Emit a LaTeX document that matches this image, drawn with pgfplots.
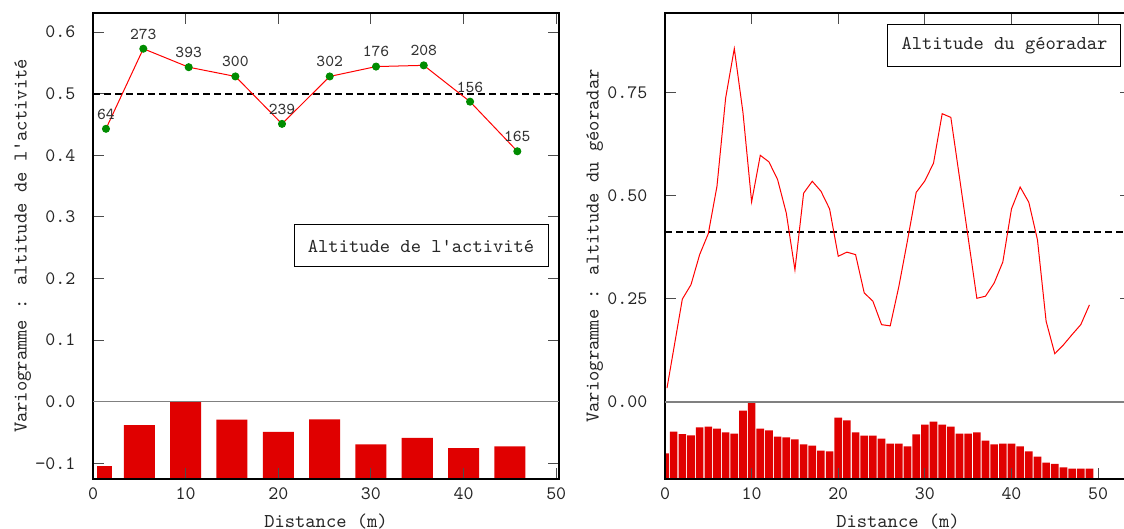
\documentclass[border=0pt]{standalone}
\usepackage{pgfplots}
\pgfplotsset{compat=1.18}
\definecolor{barred}{RGB}{224,0,0}
\definecolor{ptgreen}{RGB}{0,140,0}
\tikzset{boxnode/.style={draw=black, line width=0.5pt, fill=white, inner sep=0pt, minimum height=21pt, font=\ttfamily\fontsize{9.8}{12}\selectfont, text=black!85}}
\begin{document}
\begin{tikzpicture}
\pgfplotsset{
  vario/.style={scale only axis, width=233pt, height=233pt, anchor=south west, xmin=0, clip=true},
  mainax/.style={vario,
    axis line style={line width=1.3pt},
    major tick length=5.5pt,
    tick style={line width=0.5pt, black!70},
    tick align=inside,
    xtick={0,10,20,30,40,50}, xticklabels={0,10,20,30,40,50},
    tick label style={font=\ttfamily\fontsize{9.5}{11}\selectfont, text=black!85},
    yticklabel style={xshift=-5.3pt},
    xticklabel style={yshift=-0.8pt},
    label style={font=\ttfamily\fontsize{9.8}{12}\selectfont, text=black!85},
    xlabel style={at={(axis description cs:0.5,0)}, anchor=base, yshift=-24.25pt},
    ylabel style={at={(axis description cs:-0.1427,0.5)}, anchor=base},
  },
  barax/.style={vario, hide axis, ymin=0},
}
% ---------- left panel: bars ----------
\begin{axis}[barax, at={(46.5pt,25pt)}, xmax=50.3, ymax=0.7566]
\addplot[ybar, bar shift=0pt, bar width=1.675, fill=barred, draw=none] coordinates {(1.25,0.0205)};
\addplot[ybar, bar shift=0pt, bar width=3.35, fill=barred, draw=none] coordinates {
(5,0.0875) (10,0.1255) (15,0.0962) (20,0.0766) (25,0.0968) (30,0.0564) (35,0.0667) (40,0.0500) (45,0.0529)};
\end{axis}
% ---------- left panel: main ----------
\begin{axis}[mainax, at={(46.5pt,25pt)}, xmax=50.3, ymin=-0.1255, ymax=0.631,
  ytick={-0.1,0,0.1,0.2,0.3,0.4,0.5,0.6},
  yticklabels={−0.1,0.0,0.1,0.2,0.3,0.4,0.5,0.6},
  xlabel={Distance (m)},
  ylabel={Variogramme : altitude de l\textquotesingle activité}]
\addplot[gray, line width=0.8pt] coordinates {(0,0) (50.3,0)};
\addplot[black, line width=1pt, dash pattern=on 3.5pt off 2pt] coordinates {(0,0.5) (50.3,0.5)};
\addplot[red, line width=0.5pt, mark=*, mark size=1.75pt, mark options={fill=ptgreen, draw=ptgreen},
  nodes near coords, point meta=explicit symbolic,
  nodes near coords style={font=\ttfamily\fontsize{8.3}{10}\selectfont, text=black!80, anchor=south, inner sep=0pt, yshift=4.5pt}]
  coordinates {
(1.40,0.443)[64]
(5.43,0.573)[273]
(10.33,0.543)[393]
(15.37,0.528)[300]
(20.40,0.451)[239]
(25.55,0.528)[302]
(30.55,0.544)[176]
(35.70,0.546)[208]
(40.70,0.487)[156]
(45.80,0.4065)[165]
};
\node[boxnode, minimum width=127pt] at (axis description cs:0.704,0.5) {Altitude de l\textquotesingle activité};
\end{axis}
% ---------- right panel: bars ----------
\begin{axis}[barax, at={(332.5pt,25pt)}, xmax=53.8, ymax=1.131]
\addplot[ybar, bar shift=0pt, bar width=0.88, fill=barred, draw=none] coordinates {
(0,0.062) (1,0.115) (2,0.109) (3,0.106) (4,0.125) (5,0.127) (6,0.122) (7,0.113) (8,0.110) (9,0.166)
(10,0.188) (11,0.122) (12,0.118) (13,0.103) (14,0.101) (15,0.096) (16,0.084) (17,0.081) (18,0.069) (19,0.067)
(20,0.149) (21,0.142) (22,0.113) (23,0.105) (24,0.105) (25,0.098) (26,0.086) (27,0.086) (28,0.079) (29,0.108)
(30,0.132) (31,0.139) (32,0.132) (33,0.127) (34,0.110) (35,0.110) (36,0.113) (37,0.093) (38,0.084) (39,0.086)
(40,0.086) (41,0.079) (42,0.067) (43,0.054) (44,0.040) (45,0.037) (46,0.028) (47,0.025) (48,0.025) (49,0.025)};
\end{axis}
% ---------- right panel: main ----------
\begin{axis}[mainax, at={(332.5pt,25pt)}, xmax=53.8, ymin=-0.1876, ymax=0.9434,
  ytick={0,0.25,0.5,0.75},
  yticklabels={0.00,0.25,0.50,0.75},
  xlabel={Distance (m)},
  ylabel={Variogramme : altitude du géoradar}]
\addplot[gray, line width=0.8pt] coordinates {(0,0) (53.8,0)};
\addplot[black, line width=1pt, dash pattern=on 3.5pt off 2pt] coordinates {(0,0.413) (53.8,0.413)};
\addplot[red, line width=0.5pt] coordinates {
(0.23,0.033) (2,0.249) (3,0.284) (4,0.357) (5,0.408) (6,0.523) (7,0.737) (8,0.857) (9,0.702)
(10,0.485) (11,0.598) (12,0.582) (13,0.539) (14,0.458) (15,0.320) (16,0.506) (17,0.535) (18,0.511) (19,0.468)
(20,0.353) (21,0.363) (22,0.357) (23,0.264) (24,0.244) (25,0.187) (26,0.184) (27,0.280) (28,0.392) (29,0.508)
(30,0.536) (31,0.579) (32,0.699) (33,0.690) (34,0.544) (35,0.398) (36,0.251) (37,0.256) (38,0.288) (39,0.339)
(40,0.468) (41,0.521) (42,0.484) (43,0.393) (44,0.195) (45,0.1165) (46,0.138) (47,0.163) (48,0.187) (49,0.235)};
\node[boxnode, minimum width=116.5pt] at (axis description cs:0.7285,0.931) {Altitude du géoradar};
\end{axis}
\pgfresetboundingbox
\path[use as bounding box] (0,0) rectangle (562pt,264.5pt);
\end{tikzpicture}
\end{document}
